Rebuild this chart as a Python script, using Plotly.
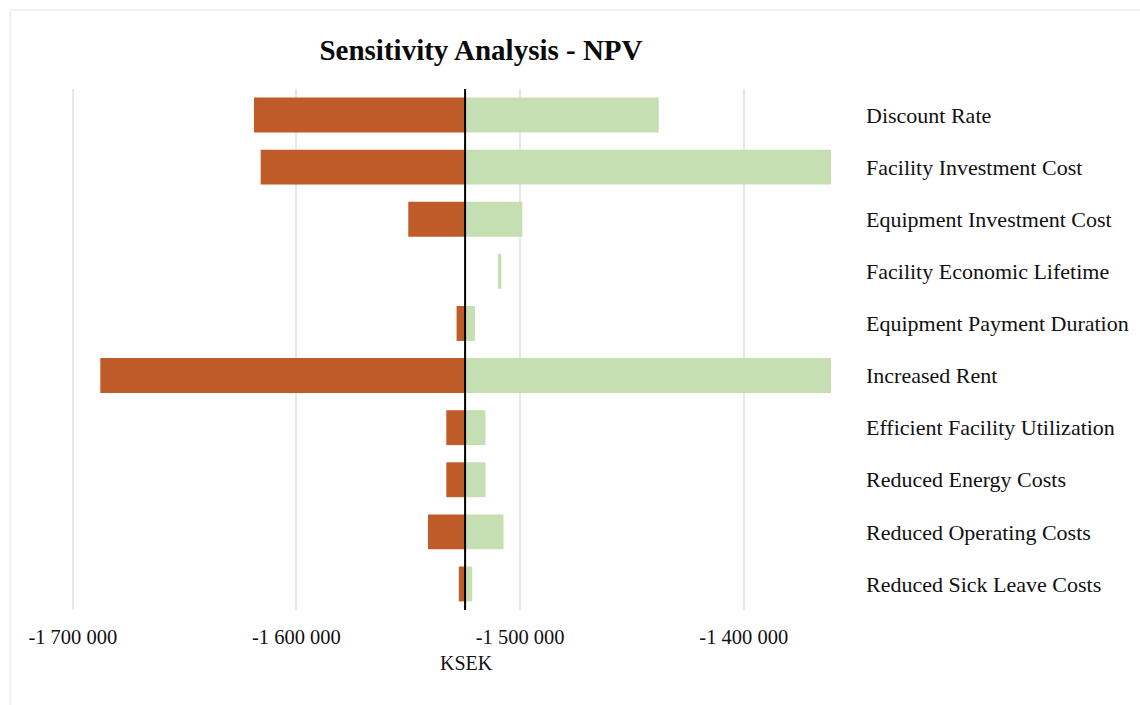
import plotly.graph_objects as go

# Sensitivity of project NPV (KSEK) to each input parameter
categories = [
    "Discount Rate",
    "Facility Investment Cost",
    "Equipment Investment Cost",
    "Facility Economic Lifetime",
    "Equipment Payment Duration",
    "Increased Rent",
    "Efficient Facility Utilization",
    "Reduced Energy Costs",
    "Reduced Operating Costs",
    "Reduced Sick Leave Costs",
]

base_npv = -1524600

# NPV in the unfavourable case (red bar runs from here up to the base case)
low_npv = [-1619000, -1616000, -1550000, None, -1528400,
           -1687700, -1533000, -1533000, -1541200, -1527400]

# Green bar start (base case unless the whole range lies on one side)
high_start = [base_npv, base_npv, base_npv, -1509900, base_npv,
              base_npv, base_npv, base_npv, base_npv, base_npv]

# NPV in the favourable case
high_npv = [-1438000, -1361000, -1499000, -1508400, -1520200,
            -1361000, -1515500, -1515500, -1507400, -1521400]

tick_values = [-1700000, -1600000, -1500000, -1400000]
tick_labels = [f"{v:,}".replace(",", " ") for v in tick_values]

RED = "#BF5A29"
GREEN = "#C5DFB3"
SERIF = "Liberation Serif, Times New Roman, serif"

red_base = [lo if lo is not None else None for lo in low_npv]
red_len = [(base_npv - lo) if lo is not None else None for lo in low_npv]
green_len = [hi - st for hi, st in zip(high_npv, high_start)]

fig = go.Figure()
fig.add_trace(go.Bar(
    y=categories, x=red_len, base=red_base, orientation="h",
    marker=dict(color=RED, line=dict(width=0)), width=0.67,
    name="Low", hoverinfo="skip",
))
fig.add_trace(go.Bar(
    y=categories, x=green_len, base=high_start, orientation="h",
    marker=dict(color=GREEN, line=dict(width=0)), width=0.67,
    name="High", hoverinfo="skip",
))

# Base-case NPV line
fig.add_shape(type="line", x0=base_npv, x1=base_npv, xref="x",
              y0=0, y1=1, yref="paper",
              line=dict(color="black", width=2), layer="above")

# Light chart frame
fig.add_shape(type="rect", xref="paper", yref="paper",
              x0=-0.08, x1=1.45, y0=-0.2, y1=1.1516,
              line=dict(color="#e6e6e6", width=1), fillcolor="rgba(0,0,0,0)",
              layer="below")

fig.add_annotation(text="KSEK", xref="paper", yref="paper",
                   x=(466 - 71) / 760, y=-53 / 521, xanchor="center",
                   yanchor="middle", showarrow=False,
                   font=dict(family=SERIF, size=20, color="#111111"))

fig.update_layout(
    width=1140, height=705,
    margin=dict(l=71, r=309, t=89, b=95),
    paper_bgcolor="white", plot_bgcolor="white",
    barmode="overlay", showlegend=False,
    title=dict(text="<b>Sensitivity Analysis - NPV</b>",
               x=481 / 1140, xanchor="center", xref="container",
               y=1 - 50 / 705, yanchor="middle", yref="container",
               font=dict(family=SERIF, size=29, color="#0a0a0a")),
    font=dict(family=SERIF, color="#111111"),
)

fig.update_xaxes(
    range=[-1700800, -1361000],
    tickvals=tick_values, ticktext=tick_labels,
    showgrid=True, gridcolor="#e8e8e8", gridwidth=1.5,
    zeroline=False, showline=False, ticks="",
    ticklabelstandoff=12,
    tickfont=dict(family=SERIF, size=20.5, color="#111111"),
)
fig.update_yaxes(
    categoryorder="array", categoryarray=categories,
    autorange="reversed", side="right",
    showgrid=False, zeroline=False, showline=False, ticks="",
    ticklabelstandoff=34,
    tickfont=dict(family=SERIF, size=22, color="#111111"),
)

fig.write_html("out.html")
